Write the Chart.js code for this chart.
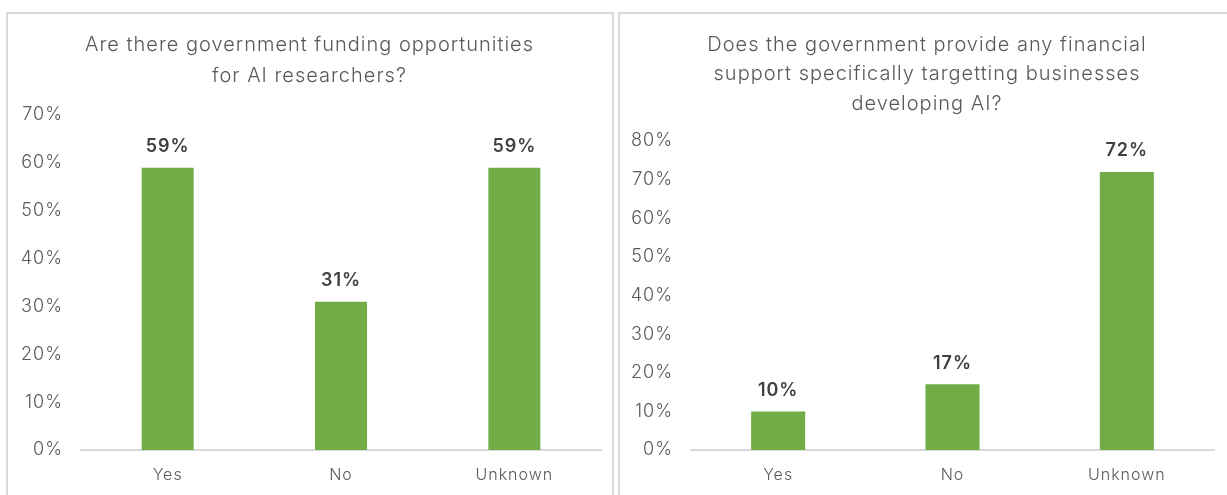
<!DOCTYPE html>
<html>
<head>
<meta charset="utf-8">
<script src="https://cdn.jsdelivr.net/npm/chart.js@4"></script>
<style>
  body { margin: 0; background: #fff; width: 1227px; height: 495px; overflow: hidden; position: relative; }
  .panel { position: absolute; top: 12px; border: 2px solid #d9d9d9; background: #fff; }
  #p1 { left: 6px; width: 604px; height: 500px; }
  #p2 { left: 618px; width: 620px; height: 500px; }
  canvas { position: absolute; left: 0; top: 0; }
</style>
</head>
<body>
<div class="panel" id="p1"><canvas id="researchers" width="604" height="481"></canvas></div>
<div class="panel" id="p2"><canvas id="businesses" width="606" height="481"></canvas></div>
<script>
const categories = ['Yes', 'No', 'Unknown'];
const researcherValues = [59, 31, 59];
const businessValues = [10, 17, 72];
const researcherTitle = ['Are there government funding opportunities', 'for AI researchers?'];
const businessTitle = ['Does the government provide any financial', 'support specifically targetting businesses', 'developing AI?'];

const FONT = 'Inter, "Noto Sans", sans-serif';

// slightly looser tracking for all text on the canvas
const tracking = {
    id: 'tracking',
    beforeDraw(chart) { chart.ctx.letterSpacing = '1px'; }
};

// nudges the title sideways so it sits over the middle of the bars
const titleShift = {
    id: 'titleShift',
    afterLayout(chart, args, opts) {
        const t = chart.titleBlock;
        if (t && opts.dx) {
            t.left += opts.dx;
            t.right += opts.dx;
        }
    }
};

// writes the percentage above each bar
const valueLabels = {
    id: 'valueLabels',
    afterDatasetsDraw(chart) {
        const ctx = chart.ctx;
        const meta = chart.getDatasetMeta(0);
        ctx.save();
        ctx.font = '600 18px ' + FONT;
        ctx.fillStyle = '#404040';
        ctx.textAlign = 'center';
        ctx.textBaseline = 'middle';
        meta.data.forEach((bar, i) => {
            ctx.fillText(chart.data.datasets[0].data[i] + '%', bar.x, bar.y - 21);
        });
        ctx.restore();
    }
};

function createChart(id, values, title, yMax, opts) {
    const ctx = document.getElementById(id).getContext('2d');
    return new Chart(ctx, {
        type: 'bar',
        data: {
            labels: categories,
            datasets: [{
                data: values,
                backgroundColor: '#70ad47',
                categoryPercentage: 1,
                barPercentage: opts.barPct
            }]
        },
        options: {
            responsive: false,
            animation: false,
            layout: { padding: { left: 0, right: opts.right, bottom: 0 } },
            plugins: {
                legend: { display: false },
                tooltip: { enabled: false },
                titleShift: { dx: opts.titleDx },
                title: {
                    display: true,
                    text: title,
                    color: '#595959',
                    font: { family: FONT, size: 20, weight: 300, lineHeight: opts.lineHeight },
                    padding: { top: opts.titleTop, bottom: opts.titleBottom }
                }
            },
            scales: {
                x: {
                    grid: { display: false, drawTicks: false },
                    border: { color: '#d9d9d9', width: 2 },
                    ticks: { color: '#595959', font: { family: FONT, size: 16, weight: 300 }, padding: 16 },
                    afterFit(scale) { scale.height = 45; }
                },
                y: {
                    min: 0,
                    max: yMax,
                    grid: { display: false, drawTicks: false },
                    border: { display: false },
                    ticks: {
                        stepSize: 10,
                        color: '#595959',
                        font: { family: FONT, size: 18, weight: 300 },
                        padding: 18,
                        callback: v => v + '%'
                    },
                    afterFit(scale) { scale.width = opts.yWidth; }
                }
            }
        },
        plugins: [tracking, titleShift, valueLabels]
    });
}

createChart('researchers', researcherValues, researcherTitle, 70,
    { barPct: 0.30, right: 11, yWidth: 73, titleDx: 5, lineHeight: 31 / 20, titleTop: 15.5, titleBottom: 23.5 });
createChart('businesses', businessValues, businessTitle, 80,
    { barPct: 0.31, right: 12, yWidth: 71, titleDx: 10, lineHeight: 29.5 / 20, titleTop: 16, titleBottom: 22.5 });
</script>
</body>
</html>
